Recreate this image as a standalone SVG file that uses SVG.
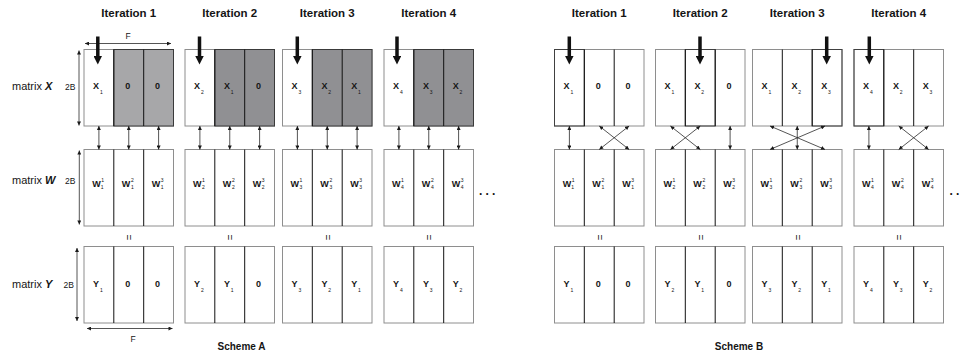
<svg xmlns="http://www.w3.org/2000/svg" width="960" height="356" viewBox="0 0 960 356">
<style>
text{font-family:"Liberation Sans",Arial,sans-serif;fill:#151515}
.title{font-weight:bold;font-size:11.5px;text-anchor:middle}
.scheme{font-weight:bold;font-size:10px;text-anchor:middle}
.mat{font-size:11px}
.mat tspan{font-weight:bold;font-style:italic}
.dim{font-size:8.5px}
.dimr{text-anchor:end}
.dimc{text-anchor:middle}
.lab{font-weight:bold;font-size:9px;text-anchor:middle}
.sub{font-size:5px;font-weight:normal}
.eq{font-size:10px;text-anchor:middle;dominant-baseline:central}
.dots{font-size:12px;font-weight:bold}
.frame{fill:#fff;stroke:#8e8e8e;stroke-width:1}
.g1{fill:#a7a7a9;stroke:#3a3a3a;stroke-width:1}
.g2{fill:#909093;stroke:#3a3a3a;stroke-width:1}
.hl{fill:none;stroke:#404040;stroke-width:1}
.div{stroke:#111;stroke-width:1;fill:none}
.link{stroke:#2a2a2a;stroke-width:0.8;fill:none;marker-start:url(#ah);marker-end:url(#ah)}
.feed{stroke:#111;stroke-width:3.5;fill:none;marker-end:url(#big)}
</style>
<defs>
<marker id="ah" viewBox="0 0 6 6" refX="6" refY="3" markerUnits="userSpaceOnUse" markerWidth="4.5" markerHeight="4" orient="auto-start-reverse">
<path d="M0 0L6 3L0 6z" fill="#1a1a1a"/>
</marker>
<marker id="big" viewBox="0 0 10 10" refX="0" refY="5" markerUnits="userSpaceOnUse" markerWidth="9" markerHeight="8.5" orient="auto">
<path d="M0 0L10 5L0 10z" fill="#111"/>
</marker>
</defs>

<!-- column headings -->
<g id="titles">
<text class="title" x="128.75" y="16.5">Iteration 1</text>
<text class="title" x="229.75" y="16.5">Iteration 2</text>
<text class="title" x="327.25" y="16.5">Iteration 3</text>
<text class="title" x="428.75" y="16.5">Iteration 4</text>
<text class="title" x="599.25" y="16.5">Iteration 1</text>
<text class="title" x="700.25" y="16.5">Iteration 2</text>
<text class="title" x="797.25" y="16.5">Iteration 3</text>
<text class="title" x="898.75" y="16.5">Iteration 4</text>
</g>

<!-- row names and dimension marks -->
<g id="axes">
<text class="mat" x="12" y="90">matrix <tspan>X</tspan></text>
<text class="mat" x="12" y="184">matrix <tspan>W</tspan></text>
<text class="mat" x="12" y="287.5">matrix <tspan>Y</tspan></text>
<text class="dim dimr" x="75.5" y="90">2B</text>
<text class="dim dimr" x="75.5" y="184">2B</text>
<text class="dim dimr" x="74" y="287.5">2B</text>
<text class="dim dimc" x="128" y="38.5">F</text>
<text class="dim dimc" x="133" y="342">F</text>
<path class="link" d="M85 43.5H171"/>
<path class="link" d="M79 50.5V125.5"/>
<path class="link" d="M79.3 150.5V224.5"/>
<path class="link" d="M77 248V321"/>
<path class="link" d="M87 328.5H172.5"/>
</g>

<!-- Scheme A : X -->
<g id="a1-x">
<rect class="frame" x="84" y="49.5" width="89.5" height="76.5"/>
<rect class="g1" x="113.8" y="49.5" width="59.7" height="76.5"/>
<path class="div" d="M113.8 49.5V126M143.7 49.5V126"/>
<text class="lab" x="97.9" y="89">X<tspan class="sub" dx="0.8" dy="4.5">1</tspan></text>
<text class="lab" x="127.8" y="89">0</text>
<text class="lab" x="157.6" y="89">0</text>
</g>
<g id="a2-x">
<rect class="frame" x="185" y="49.5" width="89.5" height="76.5"/>
<rect class="g2" x="214.8" y="49.5" width="59.7" height="76.5"/>
<path class="div" d="M214.8 49.5V126M244.7 49.5V126"/>
<text class="lab" x="198.9" y="89">X<tspan class="sub" dx="0.8" dy="4.5">2</tspan></text>
<text class="lab" x="228.8" y="89">X<tspan class="sub" dx="0.8" dy="4.5">1</tspan></text>
<text class="lab" x="258.6" y="89">0</text>
</g>
<g id="a3-x">
<rect class="frame" x="282.5" y="49.5" width="89.5" height="76.5"/>
<rect class="g2" x="312.3" y="49.5" width="59.7" height="76.5"/>
<path class="div" d="M312.3 49.5V126M342.2 49.5V126"/>
<text class="lab" x="296.4" y="89">X<tspan class="sub" dx="0.8" dy="4.5">3</tspan></text>
<text class="lab" x="326.3" y="89">X<tspan class="sub" dx="0.8" dy="4.5">2</tspan></text>
<text class="lab" x="356.1" y="89">X<tspan class="sub" dx="0.8" dy="4.5">1</tspan></text>
</g>
<g id="a4-x">
<rect class="frame" x="384" y="49.5" width="89.5" height="76.5"/>
<rect class="g2" x="413.8" y="49.5" width="59.7" height="76.5"/>
<path class="div" d="M413.8 49.5V126M443.7 49.5V126"/>
<text class="lab" x="397.9" y="89">X<tspan class="sub" dx="0.8" dy="4.5">4</tspan></text>
<text class="lab" x="427.8" y="89">X<tspan class="sub" dx="0.8" dy="4.5">3</tspan></text>
<text class="lab" x="457.6" y="89">X<tspan class="sub" dx="0.8" dy="4.5">2</tspan></text>
</g>

<!-- Scheme A : W -->
<g id="a1-w">
<rect class="frame" x="84" y="149.5" width="89.5" height="76.5"/>
<path class="div" d="M113.8 149.5V226M143.7 149.5V226"/>
<text class="lab" x="97.9" y="186.5">W<tspan class="sub" dx="0.6" dy="-5">1</tspan><tspan class="sub" dx="-2.8" dy="7">1</tspan></text>
<text class="lab" x="127.8" y="186.5">W<tspan class="sub" dx="0.6" dy="-5">2</tspan><tspan class="sub" dx="-2.8" dy="7">1</tspan></text>
<text class="lab" x="157.6" y="186.5">W<tspan class="sub" dx="0.6" dy="-5">3</tspan><tspan class="sub" dx="-2.8" dy="7">1</tspan></text>
</g>
<g id="a2-w">
<rect class="frame" x="185" y="149.5" width="89.5" height="76.5"/>
<path class="div" d="M214.8 149.5V226M244.7 149.5V226"/>
<text class="lab" x="198.9" y="186.5">W<tspan class="sub" dx="0.6" dy="-5">1</tspan><tspan class="sub" dx="-2.8" dy="7">2</tspan></text>
<text class="lab" x="228.8" y="186.5">W<tspan class="sub" dx="0.6" dy="-5">2</tspan><tspan class="sub" dx="-2.8" dy="7">2</tspan></text>
<text class="lab" x="258.6" y="186.5">W<tspan class="sub" dx="0.6" dy="-5">3</tspan><tspan class="sub" dx="-2.8" dy="7">2</tspan></text>
</g>
<g id="a3-w">
<rect class="frame" x="282.5" y="149.5" width="89.5" height="76.5"/>
<path class="div" d="M312.3 149.5V226M342.2 149.5V226"/>
<text class="lab" x="296.4" y="186.5">W<tspan class="sub" dx="0.6" dy="-5">1</tspan><tspan class="sub" dx="-2.8" dy="7">3</tspan></text>
<text class="lab" x="326.3" y="186.5">W<tspan class="sub" dx="0.6" dy="-5">2</tspan><tspan class="sub" dx="-2.8" dy="7">3</tspan></text>
<text class="lab" x="356.1" y="186.5">W<tspan class="sub" dx="0.6" dy="-5">3</tspan><tspan class="sub" dx="-2.8" dy="7">3</tspan></text>
</g>
<g id="a4-w">
<rect class="frame" x="384" y="149.5" width="89.5" height="76.5"/>
<path class="div" d="M413.8 149.5V226M443.7 149.5V226"/>
<text class="lab" x="397.9" y="186.5">W<tspan class="sub" dx="0.6" dy="-5">1</tspan><tspan class="sub" dx="-2.8" dy="7">4</tspan></text>
<text class="lab" x="427.8" y="186.5">W<tspan class="sub" dx="0.6" dy="-5">2</tspan><tspan class="sub" dx="-2.8" dy="7">4</tspan></text>
<text class="lab" x="457.6" y="186.5">W<tspan class="sub" dx="0.6" dy="-5">3</tspan><tspan class="sub" dx="-2.8" dy="7">4</tspan></text>
</g>

<!-- Scheme A : Y -->
<g id="a1-y">
<rect class="frame" x="84" y="246.5" width="89.5" height="76.5"/>
<path class="div" d="M113.8 246.5V323M143.7 246.5V323"/>
<text class="lab" x="97.9" y="287">Y<tspan class="sub" dx="0.8" dy="4.5">1</tspan></text>
<text class="lab" x="127.8" y="287">0</text>
<text class="lab" x="157.6" y="287">0</text>
</g>
<g id="a2-y">
<rect class="frame" x="185" y="246.5" width="89.5" height="76.5"/>
<path class="div" d="M214.8 246.5V323M244.7 246.5V323"/>
<text class="lab" x="198.9" y="287">Y<tspan class="sub" dx="0.8" dy="4.5">2</tspan></text>
<text class="lab" x="228.8" y="287">Y<tspan class="sub" dx="0.8" dy="4.5">1</tspan></text>
<text class="lab" x="258.6" y="287">0</text>
</g>
<g id="a3-y">
<rect class="frame" x="282.5" y="246.5" width="89.5" height="76.5"/>
<path class="div" d="M312.3 246.5V323M342.2 246.5V323"/>
<text class="lab" x="296.4" y="287">Y<tspan class="sub" dx="0.8" dy="4.5">3</tspan></text>
<text class="lab" x="326.3" y="287">Y<tspan class="sub" dx="0.8" dy="4.5">2</tspan></text>
<text class="lab" x="356.1" y="287">Y<tspan class="sub" dx="0.8" dy="4.5">1</tspan></text>
</g>
<g id="a4-y">
<rect class="frame" x="384" y="246.5" width="89.5" height="76.5"/>
<path class="div" d="M413.8 246.5V323M443.7 246.5V323"/>
<text class="lab" x="397.9" y="287">Y<tspan class="sub" dx="0.8" dy="4.5">4</tspan></text>
<text class="lab" x="427.8" y="287">Y<tspan class="sub" dx="0.8" dy="4.5">3</tspan></text>
<text class="lab" x="457.6" y="287">Y<tspan class="sub" dx="0.8" dy="4.5">2</tspan></text>
</g>

<!-- Scheme B : X -->
<g id="b1-x">
<rect class="frame" x="554.5" y="49.5" width="89.5" height="76.5"/>
<rect class="hl" x="554.5" y="49.5" width="29.8" height="76.5"/>
<path class="div" d="M584.3 49.5V126M614.2 49.5V126"/>
<text class="lab" x="568.4" y="89">X<tspan class="sub" dx="0.8" dy="4.5">1</tspan></text>
<text class="lab" x="598.3" y="89">0</text>
<text class="lab" x="628.1" y="89">0</text>
</g>
<g id="b2-x">
<rect class="frame" x="655.5" y="49.5" width="89.5" height="76.5"/>
<rect class="hl" x="685.3" y="49.5" width="29.9" height="76.5"/>
<path class="div" d="M685.3 49.5V126M715.2 49.5V126"/>
<text class="lab" x="669.4" y="89">X<tspan class="sub" dx="0.8" dy="4.5">1</tspan></text>
<text class="lab" x="699.3" y="89">X<tspan class="sub" dx="0.8" dy="4.5">2</tspan></text>
<text class="lab" x="729.1" y="89">0</text>
</g>
<g id="b3-x">
<rect class="frame" x="752.5" y="49.5" width="89.5" height="76.5"/>
<rect class="hl" x="812.2" y="49.5" width="29.8" height="76.5"/>
<path class="div" d="M782.3 49.5V126M812.2 49.5V126"/>
<text class="lab" x="766.4" y="89">X<tspan class="sub" dx="0.8" dy="4.5">1</tspan></text>
<text class="lab" x="796.3" y="89">X<tspan class="sub" dx="0.8" dy="4.5">2</tspan></text>
<text class="lab" x="826.1" y="89">X<tspan class="sub" dx="0.8" dy="4.5">3</tspan></text>
</g>
<g id="b4-x">
<rect class="frame" x="854" y="49.5" width="89.5" height="76.5"/>
<rect class="hl" x="854" y="49.5" width="29.8" height="76.5"/>
<path class="div" d="M883.8 49.5V126M913.7 49.5V126"/>
<text class="lab" x="867.9" y="89">X<tspan class="sub" dx="0.8" dy="4.5">4</tspan></text>
<text class="lab" x="897.8" y="89">X<tspan class="sub" dx="0.8" dy="4.5">2</tspan></text>
<text class="lab" x="927.6" y="89">X<tspan class="sub" dx="0.8" dy="4.5">3</tspan></text>
</g>

<!-- Scheme B : W -->
<g id="b1-w">
<rect class="frame" x="554.5" y="149.5" width="89.5" height="76.5"/>
<path class="div" d="M584.3 149.5V226M614.2 149.5V226"/>
<text class="lab" x="568.4" y="186.5">W<tspan class="sub" dx="0.6" dy="-5">1</tspan><tspan class="sub" dx="-2.8" dy="7">1</tspan></text>
<text class="lab" x="598.3" y="186.5">W<tspan class="sub" dx="0.6" dy="-5">2</tspan><tspan class="sub" dx="-2.8" dy="7">1</tspan></text>
<text class="lab" x="628.1" y="186.5">W<tspan class="sub" dx="0.6" dy="-5">3</tspan><tspan class="sub" dx="-2.8" dy="7">1</tspan></text>
</g>
<g id="b2-w">
<rect class="frame" x="655.5" y="149.5" width="89.5" height="76.5"/>
<path class="div" d="M685.3 149.5V226M715.2 149.5V226"/>
<text class="lab" x="669.4" y="186.5">W<tspan class="sub" dx="0.6" dy="-5">1</tspan><tspan class="sub" dx="-2.8" dy="7">2</tspan></text>
<text class="lab" x="699.3" y="186.5">W<tspan class="sub" dx="0.6" dy="-5">2</tspan><tspan class="sub" dx="-2.8" dy="7">2</tspan></text>
<text class="lab" x="729.1" y="186.5">W<tspan class="sub" dx="0.6" dy="-5">3</tspan><tspan class="sub" dx="-2.8" dy="7">2</tspan></text>
</g>
<g id="b3-w">
<rect class="frame" x="752.5" y="149.5" width="89.5" height="76.5"/>
<path class="div" d="M782.3 149.5V226M812.2 149.5V226"/>
<text class="lab" x="766.4" y="186.5">W<tspan class="sub" dx="0.6" dy="-5">1</tspan><tspan class="sub" dx="-2.8" dy="7">3</tspan></text>
<text class="lab" x="796.3" y="186.5">W<tspan class="sub" dx="0.6" dy="-5">2</tspan><tspan class="sub" dx="-2.8" dy="7">3</tspan></text>
<text class="lab" x="826.1" y="186.5">W<tspan class="sub" dx="0.6" dy="-5">3</tspan><tspan class="sub" dx="-2.8" dy="7">3</tspan></text>
</g>
<g id="b4-w">
<rect class="frame" x="854" y="149.5" width="89.5" height="76.5"/>
<path class="div" d="M883.8 149.5V226M913.7 149.5V226"/>
<text class="lab" x="867.9" y="186.5">W<tspan class="sub" dx="0.6" dy="-5">1</tspan><tspan class="sub" dx="-2.8" dy="7">4</tspan></text>
<text class="lab" x="897.8" y="186.5">W<tspan class="sub" dx="0.6" dy="-5">2</tspan><tspan class="sub" dx="-2.8" dy="7">4</tspan></text>
<text class="lab" x="927.6" y="186.5">W<tspan class="sub" dx="0.6" dy="-5">3</tspan><tspan class="sub" dx="-2.8" dy="7">4</tspan></text>
</g>

<!-- Scheme B : Y -->
<g id="b1-y">
<rect class="frame" x="554.5" y="246.5" width="89.5" height="76.5"/>
<path class="div" d="M584.3 246.5V323M614.2 246.5V323"/>
<text class="lab" x="568.4" y="287">Y<tspan class="sub" dx="0.8" dy="4.5">1</tspan></text>
<text class="lab" x="598.3" y="287">0</text>
<text class="lab" x="628.1" y="287">0</text>
</g>
<g id="b2-y">
<rect class="frame" x="655.5" y="246.5" width="89.5" height="76.5"/>
<path class="div" d="M685.3 246.5V323M715.2 246.5V323"/>
<text class="lab" x="669.4" y="287">Y<tspan class="sub" dx="0.8" dy="4.5">2</tspan></text>
<text class="lab" x="699.3" y="287">Y<tspan class="sub" dx="0.8" dy="4.5">1</tspan></text>
<text class="lab" x="729.1" y="287">0</text>
</g>
<g id="b3-y">
<rect class="frame" x="752.5" y="246.5" width="89.5" height="76.5"/>
<path class="div" d="M782.3 246.5V323M812.2 246.5V323"/>
<text class="lab" x="766.4" y="287">Y<tspan class="sub" dx="0.8" dy="4.5">3</tspan></text>
<text class="lab" x="796.3" y="287">Y<tspan class="sub" dx="0.8" dy="4.5">2</tspan></text>
<text class="lab" x="826.1" y="287">Y<tspan class="sub" dx="0.8" dy="4.5">1</tspan></text>
</g>
<g id="b4-y">
<rect class="frame" x="854" y="246.5" width="89.5" height="76.5"/>
<path class="div" d="M883.8 246.5V323M913.7 246.5V323"/>
<text class="lab" x="867.9" y="287">Y<tspan class="sub" dx="0.8" dy="4.5">4</tspan></text>
<text class="lab" x="897.8" y="287">Y<tspan class="sub" dx="0.8" dy="4.5">3</tspan></text>
<text class="lab" x="927.6" y="287">Y<tspan class="sub" dx="0.8" dy="4.5">2</tspan></text>
</g>

<!-- connectors: X-to-W links and input arrows -->
<g id="connectors">
<path class="link" d="M98.9 126V149.5"/>
<path class="link" d="M128.75 126V149.5"/>
<path class="link" d="M158.6 126V149.5"/>
<path class="link" d="M199.9 126V149.5"/>
<path class="link" d="M229.75 126V149.5"/>
<path class="link" d="M259.6 126V149.5"/>
<path class="link" d="M297.4 126V149.5"/>
<path class="link" d="M327.25 126V149.5"/>
<path class="link" d="M357.1 126V149.5"/>
<path class="link" d="M398.9 126V149.5"/>
<path class="link" d="M428.75 126V149.5"/>
<path class="link" d="M458.6 126V149.5"/>

<path class="link" d="M569.4 126V149.5"/>
<path class="link" d="M599.25 126L629.1 149.5"/>
<path class="link" d="M629.1 126L599.25 149.5"/>
<path class="link" d="M670.4 126L700.25 149.5"/>
<path class="link" d="M700.25 126L670.4 149.5"/>
<path class="link" d="M730.1 126V149.5"/>
<path class="link" d="M770 126L825 149.5"/>
<path class="link" d="M825 126L770 149.5"/>
<path class="link" d="M797.25 126V149.5"/>
<path class="link" d="M868.9 126V149.5"/>
<path class="link" d="M898.75 126L928.6 149.5"/>
<path class="link" d="M928.6 126L898.75 149.5"/>

<path class="feed" d="M97.8 36.5V56"/>
<path class="feed" d="M199.5 36.5V56"/>
<path class="feed" d="M297.3 36.5V56"/>
<path class="feed" d="M397 36.5V56"/>
<path class="feed" d="M569.3 36.5V56"/>
<path class="feed" d="M700 36.5V56"/>
<path class="feed" d="M826.7 36.5V56"/>
<path class="feed" d="M869.3 36.5V56"/>
</g>

<!-- equality marks between W and Y -->
<g id="equals">
<text class="eq" transform="translate(128.75 237.5) rotate(90)">=</text>
<text class="eq" transform="translate(229.75 237.5) rotate(90)">=</text>
<text class="eq" transform="translate(327.25 237.5) rotate(90)">=</text>
<text class="eq" transform="translate(428.75 237.5) rotate(90)">=</text>
<text class="eq" transform="translate(599.25 237.5) rotate(90)">=</text>
<text class="eq" transform="translate(700.25 237.5) rotate(90)">=</text>
<text class="eq" transform="translate(797.25 237.5) rotate(90)">=</text>
<text class="eq" transform="translate(898.75 237.5) rotate(90)">=</text>
</g>

<text class="dots" x="479" y="194.5">.<tspan dx="3.2">.</tspan><tspan dx="3.2">.</tspan></text>
<text class="dots" x="949.5" y="194.5">.<tspan dx="3.2">.</tspan></text>

<text class="scheme" x="241.5" y="350">Scheme A</text>
<text class="scheme" x="739" y="350">Scheme B</text>
</svg>
